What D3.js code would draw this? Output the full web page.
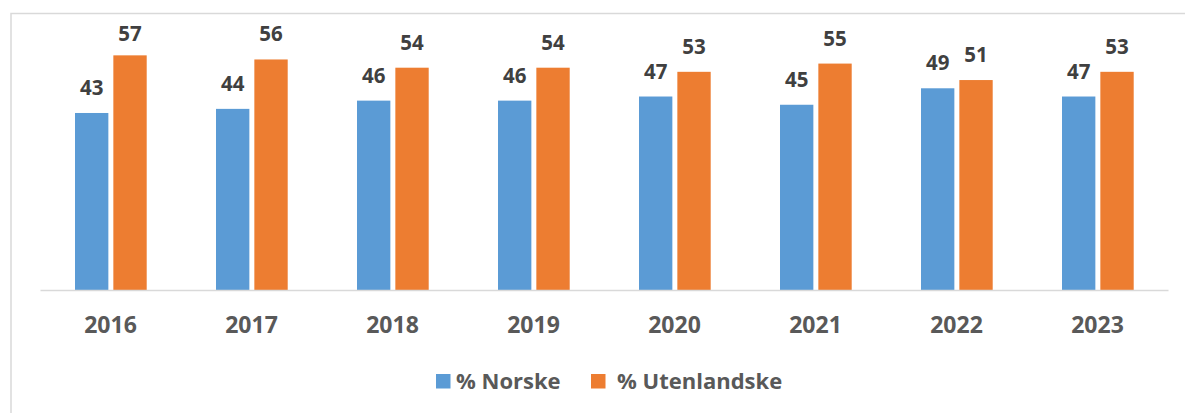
<!DOCTYPE html>
<html><head><meta charset="utf-8">
<script src="https://cdn.jsdelivr.net/npm/d3@7"></script>
<style>html,body{margin:0;padding:0;background:#fff;}svg{display:block;}</style>
</head><body>
<script>
const years = ["2016","2017","2018","2019","2020","2021","2022","2023"];
const norske = [43,44,46,46,47,45,49,47];
const utenlandske = [57,56,54,54,53,55,51,53];
const seriesNames = ["% Norske","% Utenlandske"];
const colors = ["#5b9bd5","#ed7d31"];

const W = 1185, H = 413;
const svg = d3.select("body").append("svg").attr("width", W).attr("height", H);
svg.append("rect").attr("x",11).attr("y",13.5).attr("width",W).attr("height",H)
  .attr("fill","#fff").attr("stroke","#d9d9d9").attr("stroke-width",1.5);

const x0 = d3.scaleBand().domain(years).range([40,1168]).padding(0);
const x1 = d3.scaleBand().domain([0,1]).range([35,106.7]).paddingInner(0.13);
const y = d3.scaleLinear().domain([0,60]).range([290,43]);

const data = years.map((yr,i)=>({yr, vals:[norske[i], utenlandske[i]]}));
const g = svg.append("g");
const groups = g.selectAll("g.grp").data(data).join("g").attr("class","grp")
  .attr("transform", d=>`translate(${x0(d.yr)},0)`);
groups.selectAll("rect").data(d=>d.vals.map((v,k)=>({v,k}))).join("rect")
  .attr("x", d=>x1(d.k)).attr("width", x1.bandwidth())
  .attr("y", d=>y(d.v)).attr("height", d=>y(0)-y(d.v))
  .attr("fill", d=>colors[d.k]);
groups.selectAll("text").data(d=>d.vals.map((v,k)=>({v,k}))).join("text")
  .attr("x", d=>x1(d.k)+x1.bandwidth()/2)
  .attr("y", d=>Math.max(y(d.v)-18, 41))
  .attr("text-anchor","middle")
  .attr("font-family","'Open Sans', sans-serif").attr("font-weight","bold")
  .attr("font-size",20.5).attr("fill","#404040")
  .text(d=>d.v);

// axis
const ax = svg.append("g").attr("transform","translate(0,290)")
  .call(d3.axisBottom(x0).tickSize(0).tickPadding(0));
ax.select(".domain").attr("stroke","#d9d9d9").attr("stroke-width",1.5);
ax.selectAll("text").attr("y",43).attr("dy",0)
  .attr("font-family","'Open Sans', sans-serif").attr("font-weight","bold")
  .attr("font-size",23).attr("fill","#595959");

// legend
const legX = [436, 591];
const legTextX = [456, 617];
const leg = svg.append("g");
seriesNames.forEach((n,i)=>{
  leg.append("rect").attr("x",legX[i]).attr("y",374).attr("width",14.5).attr("height",14.5).attr("fill",colors[i]);
  leg.append("text").attr("x",legTextX[i]).attr("y",389)
    .attr("font-family","'Open Sans', sans-serif").attr("font-weight","bold")
    .attr("font-size",22).attr("fill","#595959").text(n);
});
</script>
</body></html>
